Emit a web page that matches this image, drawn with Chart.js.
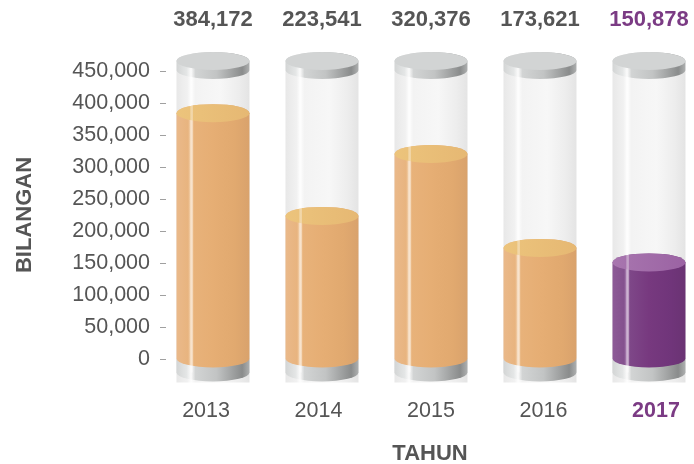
<!DOCTYPE html>
<html>
<head>
<meta charset="utf-8">
<script src="https://cdn.jsdelivr.net/npm/chart.js@4/dist/chart.umd.min.js"></script>
<style>
html,body{margin:0;padding:0;background:#fff;overflow:hidden}
canvas{display:block}
</style>
</head>
<body>
<canvas id="carta" width="694" height="464"></canvas>
<script>
// data carta
const tahun = ["2013", "2014", "2015", "2016", "2017"];
const bilangan = [384172, 223541, 320376, 173621, 150878];
const paksiY = [0, 50000, 100000, 150000, 200000, 250000, 300000, 350000, 400000, 450000];
const sorot = "2017";

const KELABU = "#555555";
const UNGU = "#7b3b84";
const FON = "'Liberation Sans', Arial, sans-serif";

function gradien(ctx, l, r, stops) {
    const g = ctx.createLinearGradient(l, 0, r, 0);
    stops.forEach(s => g.addColorStop(s[0], s[1]));
    return g;
}
function elips(ctx, cx, cy, rx, ry) {
    ctx.beginPath();
    ctx.ellipse(cx, cy, rx, ry, 0, 0, Math.PI * 2);
}
// sisi silinder antara y1 dan y2
function sisi(ctx, cx, rx, ry, y1, y2) {
    ctx.beginPath();
    ctx.moveTo(cx - rx, y1);
    ctx.lineTo(cx - rx, y2);
    ctx.ellipse(cx, y2, rx, ry, 0, Math.PI, 0, true);
    ctx.lineTo(cx + rx, y1);
    ctx.ellipse(cx, y1, rx, ry, 0, 0, -Math.PI, true);
    ctx.closePath();
}
function disorot(c) {
    return !!(c && c.tick && tahun[c.tick.value] === sorot);
}

const logam = [[0, "#d3d5d5"], [0.14, "#e4e6e6"], [0.2, "#fbfbfb"], [0.26, "#d2d4d4"], [0.55, "#c2c4c4"], [0.8, "#9a9c9c"], [0.9, "#8a8c8c"], [1, "#aeb0b0"]];
const kaca = [[0, "#e8e8e8"], [0.15, "#f1f1f1"], [0.2, "#fdfdfd"], [0.26, "#f3f3f3"], [0.6, "#f7f7f7"], [0.85, "#ededed"], [1, "#e4e4e4"]];
const oren = [[0, "#eab98a"], [0.16, "#e8b47f"], [0.2, "#f6dabb"], [0.24, "#e8b27a"], [0.5, "#e6ae74"], [0.8, "#e1a96f"], [1, "#d9a26c"]];
const orenAtas = [[0, "#ecc47c"], [1, "#e6b873"]];
const ungu = [[0, "#8d5a97"], [0.16, "#84518e"], [0.2, "#bb96c2"], [0.24, "#7e4788"], [0.5, "#77397f"], [0.8, "#70357a"], [1, "#6a3373"]];
const unguAtas = [[0, "#a876af"], [1, "#9b63a3"]];

const silinder = {
    id: "silinder",
    afterDatasetsDraw(chart) {
        const ctx = chart.ctx, y = chart.scales.y;
        const atas = y.getPixelForValue(y.max) - 1;
        const ry = 9;
        ctx.save();
        chart.getDatasetMeta(0).data.forEach((bar, i) => {
            const cx = bar.x, w = bar.width, rx = w / 2, l = cx - rx, r = cx + rx;
            const dasar = bar.base, aras = bar.y;
            const pilih = tahun[i] === sorot;

            // kaca belakang
            ctx.fillStyle = gradien(ctx, l, r, kaca);
            ctx.fillRect(l, atas, w, dasar + 24 - atas);

            // tapak logam
            ctx.fillStyle = gradien(ctx, l, r, logam);
            sisi(ctx, cx, rx, ry, dasar + 1, dasar + 14);
            ctx.fill();

            // isi
            ctx.fillStyle = gradien(ctx, l, r, pilih ? ungu : oren);
            sisi(ctx, cx, rx, ry, aras, dasar);
            ctx.fill();
            ctx.fillStyle = gradien(ctx, l, r, pilih ? unguAtas : orenAtas);
            elips(ctx, cx, aras, rx, ry);
            ctx.fill();

            // kilauan kaca depan
            ctx.fillStyle = "rgba(255,255,255,0.35)";
            ctx.fillRect(l + w * 0.19, atas, w * 0.035, dasar + 14 - atas);

            // penutup logam
            ctx.fillStyle = gradien(ctx, l, r, logam);
            sisi(ctx, cx, rx, ry, atas - 9, atas);
            ctx.fill();
            ctx.fillStyle = "#d2d4d4";
            elips(ctx, cx, atas - 9, rx, ry);
            ctx.fill();

            // label nilai
            ctx.fillStyle = pilih ? UNGU : KELABU;
            ctx.font = "bold 22px " + FON;
            ctx.textAlign = "center";
            ctx.textBaseline = "middle";
            ctx.fillText(bilangan[i].toLocaleString("en-US"), cx, 20);
        });
        ctx.restore();
    }
};

new Chart(document.getElementById("carta"), {
    type: "bar",
    data: {
        datasets: [{
            data: bilangan.map((v, i) => ({ x: i, y: v })),
            backgroundColor: "rgba(0,0,0,0)",
            barThickness: 73,
            clip: false
        }]
    },
    options: {
        responsive: false,
        animation: false,
        layout: { padding: { top: 71, left: 0, right: 0, bottom: 0 } },
        plugins: { legend: { display: false }, tooltip: { enabled: false } },
        scales: {
            x: { type: "linear", min: -0.431, max: 4.413, offset: false, display: false },
            xl: {
                type: "linear",
                position: "bottom",
                offset: false,
                min: -0.356,
                max: 4.338,
                afterBuildTicks: s => { s.ticks = tahun.map((t, i) => ({ value: i })); },
                afterFit: s => { s.height = 105; s.paddingLeft = 0; s.paddingRight = 0; },
                grid: { display: false, offset: false },
                border: { display: false },
                ticks: {
                    autoSkip: false,
                    maxRotation: 0,
                    padding: 31,
                    callback: v => tahun[v],
                    color: c => disorot(c) ? UNGU : KELABU,
                    font: c => ({ family: FON, size: 21.5, weight: disorot(c) ? "bold" : "normal" })
                },
                title: {
                    display: true,
                    text: "TAHUN",
                    color: KELABU,
                    font: { family: FON, size: 22, weight: "bold", lineHeight: 0.9 },
                    padding: { top: 25, bottom: 0 }
                }
            },
            y: {
                min: 0,
                max: 450000,
                afterBuildTicks: s => { s.ticks = paksiY.map(v => ({ value: v })); },
                afterFit: s => { s.width = 166; },
                grid: { drawOnChartArea: false, drawTicks: true, tickLength: 6, color: "#a0a0a0" },
                border: { display: false },
                ticks: {
                    autoSkip: false,
                    padding: 10,
                    color: KELABU,
                    font: { family: FON, size: 21.5 },
                    callback: v => v.toLocaleString("en-US")
                },
                title: {
                    display: true,
                    text: "BILANGAN",
                    color: KELABU,
                    font: { family: FON, size: 22, weight: "bold" },
                    padding: { top: 12 }
                }
            }
        }
    },
    plugins: [silinder]
});
</script>
</body>
</html>
